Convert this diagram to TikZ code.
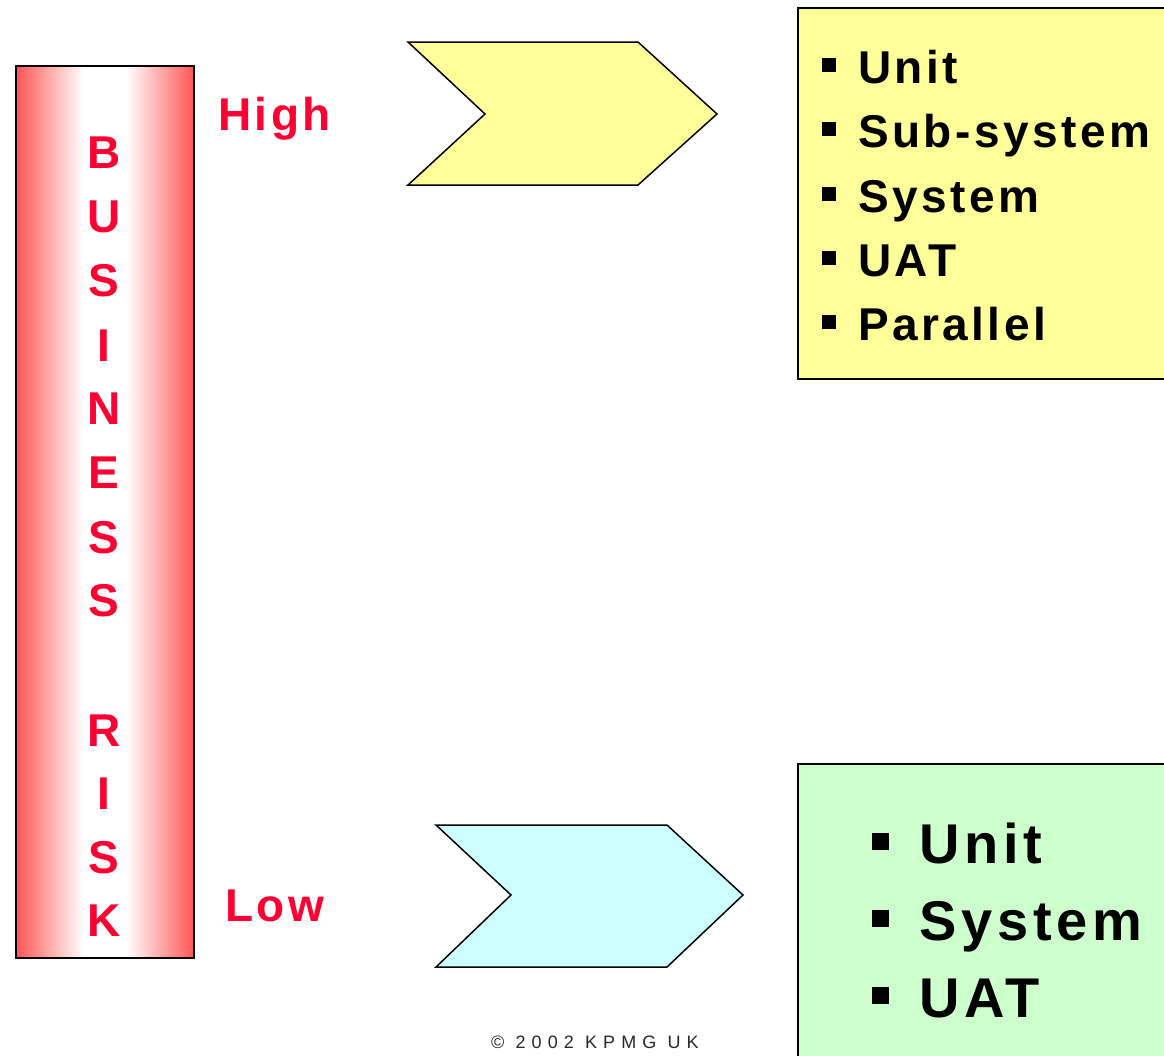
\documentclass[tikz,border=0pt]{standalone}
\usepackage{fontspec}
\setmainfont{Liberation Sans}
\newfontfamily\spacedfont[LetterSpace=7.5]{Liberation Sans}
\newfontfamily\widefont[LetterSpace=8.5]{Liberation Sans}
\newfontfamily\copyfont[LetterSpace=34]{Liberation Sans}
\definecolor{riskred}{RGB}{255,0,51}
\definecolor{barred}{RGB}{255,85,85}
\definecolor{chevyellow}{RGB}{255,255,153}
\definecolor{chevcyan}{RGB}{204,255,255}
\definecolor{boxgreen}{RGB}{204,255,204}
\definecolor{copygray}{RGB}{40,40,40}
\pgfdeclarehorizontalshading{barshade}{100bp}{color(0bp)=(barred); color(25bp)=(barred); color(44bp)=(white); color(56bp)=(white); color(75bp)=(barred); color(100bp)=(barred)}
\tikzset{
  outline/.style={draw=black, line width=1.5pt},
  riskletter/.style={text=riskred, font=\fontsize{46}{50}\selectfont\bfseries, inner sep=0pt, anchor=base},
  risklabel/.style={text=riskred, font=\fontsize{46}{50}\selectfont\spacedfont\bfseries, inner sep=0pt, anchor=base west},
  chev/.style={outline, line join=miter},
  itemone/.style={text=black, font=\fontsize{46}{50}\selectfont\spacedfont\bfseries, inner sep=0pt, anchor=base west},
  itemtwo/.style={text=black, font=\fontsize{56}{60}\selectfont\widefont\bfseries, inner sep=0pt, anchor=base west},
  bulletone/.style={fill=black, minimum size=14pt, inner sep=0pt},
  bullettwo/.style={fill=black, minimum size=17pt, inner sep=0pt},
  copytext/.style={text=copygray, font=\fontsize{18}{20}\selectfont\copyfont, inner sep=0pt, anchor=base west}
}
\begin{document}
\begin{tikzpicture}[x=1pt,y=-1pt]
\path[use as bounding box] (0,0) rectangle (1164,1055);
\clip (0,0) rectangle (1164,1055);
% risk bar
\node[outline, shading=barshade, minimum width=178pt, minimum height=892pt, anchor=north west, inner sep=0pt] (bar) at (15,65) {};
\foreach \l/\yy [count=\i] in {B/168.5,U/232.5,S/296.5,I/361.5,N/424.5,E/488.5,S/553.5,S/616.5,R/746.5,I/809.5,S/873.5,K/936.5}
  \node[riskletter] (letter\i) at (104,\yy) {\l};
\node[risklabel] (high) at (218,130) {High};
\node[risklabel] (low) at (225,921) {Low};
% chevrons
\draw[chev, fill=chevyellow] (408,42) -- (638,42) -- (717,114) -- (638,185) -- (408,185) -- (485,114) -- cycle;
\draw[chev, fill=chevcyan] (436,825) -- (667,825) -- (743,895) -- (667,967) -- (436,967) -- (511,895) -- cycle;
% boxes
\node[outline, fill=chevyellow, anchor=north west, minimum width=400pt, minimum height=371pt, inner sep=0pt] (highbox) at (797,7) {};
\node[outline, fill=boxgreen, anchor=north west, minimum width=400pt, minimum height=400pt, inner sep=0pt] (lowbox) at (797,763) {};
\foreach \t/\yy [count=\i] in {Unit/83.5,Sub-system/147.5,System/212.5,UAT/276.5,Parallel/340.5}{
  \node[bulletone] (hb\i) at (829,\yy-19) {};
  \node[itemone] (ht\i) at (858,\yy) {\t};
}
\foreach \t/\yy [count=\i] in {Unit/863,System/940,UAT/1017}{
  \node[bullettwo] (lb\i) at (880.5,\yy-22) {};
  \node[itemtwo] (lt\i) at (919,\yy) {\t};
}
\node[copytext] (copy) at (491,1048) {© 2002 KPMG UK};
\end{tikzpicture}
\end{document}
